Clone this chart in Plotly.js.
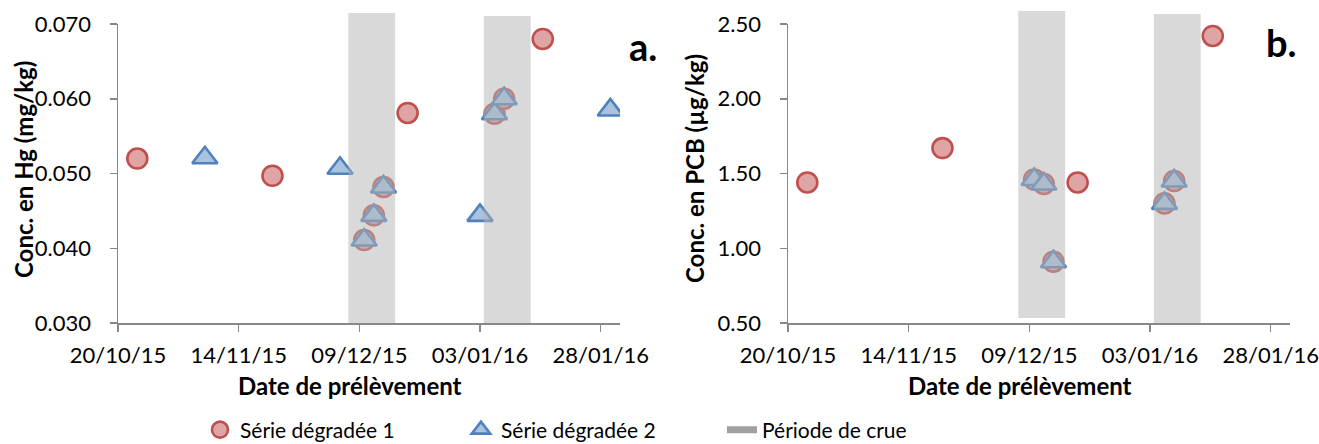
<!DOCTYPE html>
<html>
<head>
<meta charset="utf-8">
<script src="https://cdn.plot.ly/plotly-3.0.1.min.js"></script>
<style>html,body{margin:0;padding:0;background:#fff;} #chart{width:1319px;height:444px;}</style>
</head>
<body>
<div id="chart"></div>
<script>
// ---------- data ----------
const hgDates1 = ['2015-10-24','2015-11-21','2015-12-10','2015-12-12','2015-12-14','2015-12-19','2016-01-06','2016-01-08','2016-01-16'];
const hgVals1  = [0.0520, 0.0497, 0.0411, 0.0444, 0.0482, 0.0581, 0.0580, 0.0600, 0.0680];
const hgDates2 = ['2015-11-07','2015-12-05','2015-12-10','2015-12-12','2015-12-14','2016-01-03','2016-01-06','2016-01-08','2016-01-30'];
const hgVals2  = [0.0521, 0.0507, 0.0411, 0.0444, 0.0482, 0.0444, 0.0580, 0.0600, 0.0585];

const pcbDates1 = ['2015-10-24','2015-11-21','2015-12-10','2015-12-12','2015-12-14','2015-12-19','2016-01-06','2016-01-08','2016-01-16'];
const pcbVals1  = [1.44, 1.67, 1.46, 1.43, 0.91, 1.44, 1.30, 1.45, 2.42];
const pcbDates2 = ['2015-12-10','2015-12-12','2015-12-14','2016-01-06','2016-01-08'];
const pcbVals2  = [1.46, 1.43, 0.91, 1.30, 1.45];

const floodStart = ['2015-12-06 17:00','2016-01-03 19:00'];
const floodEnd   = ['2015-12-16 10:00','2016-01-13 12:00'];

const xTickVals = ['2015-10-20','2015-11-14','2015-12-09','2016-01-03','2016-01-28'];
const xTickText = ['20/10/15','14/11/15','09/12/15','03/01/16','28/01/16'];
const hgTicks  = [0.030, 0.040, 0.050, 0.060, 0.070];
const pcbTicks = [0.50, 1.00, 1.50, 2.00, 2.50];

const seriesNames = ['Série dégradée 1','Série dégradée 2','Période de crue'];

// ---------- styles ----------
const W = 1319, H = 444;
const FONT = 'Lato, "Open Sans", sans-serif';
const AXC = '#888888';
const redM = {symbol:'circle', size:20, color:'#dea5a4', line:{color:'#c0504d', width:2.6}};
const bluM = {symbol:'triangle-up', size:22, color:'#a8c2e0', line:{color:'#4f81bd', width:2.6}};
const px = v => v / W;
const py = v => 1 - v / H;

const traces = [
  {x: hgDates1, y: hgVals1, xaxis:'x', yaxis:'y', mode:'markers', type:'scatter', name: seriesNames[0], marker: redM, legendgroup:'s1'},
  {x: hgDates2, y: hgVals2, xaxis:'x', yaxis:'y', mode:'markers', type:'scatter', name: seriesNames[1], marker: bluM, legendgroup:'s2'},
  {x: pcbDates1, y: pcbVals1, xaxis:'x2', yaxis:'y2', mode:'markers', type:'scatter', name: seriesNames[0], marker: redM, legendgroup:'s1', showlegend:false},
  {x: pcbDates2, y: pcbVals2, xaxis:'x2', yaxis:'y2', mode:'markers', type:'scatter', name: seriesNames[1], marker: bluM, legendgroup:'s2', showlegend:false},
  {x: [null], y: [null], xaxis:'x', yaxis:'y', mode:'lines', type:'scatter', name: seriesNames[2], line:{color:'#a0a0a0', width:7}}
];

const xCommon = {
  type:'date', range:['2015-10-20','2016-02-01'], tickmode:'array', tickvals:xTickVals, ticktext:xTickText,
  showline:true, linecolor:AXC, linewidth:1.5, ticks:'outside', ticklen:7, tickwidth:1.5, tickcolor:AXC,
  showgrid:false, zeroline:false, tickfont:{family:FONT, size:22, color:'#000'}, ticklabelstandoff:5, fixedrange:true
};
const yCommon = {
  showline:true, linecolor:AXC, linewidth:1.5, ticks:'outside', ticklen:7, tickwidth:1.5, tickcolor:AXC,
  showgrid:false, zeroline:false, tickfont:{family:FONT, size:22, color:'#000'}, ticklabelstandoff:14, fixedrange:true,
  domain:[py(323), py(24)]
};

// shading periods, drawn above markers
const shapes = [];
const tops = [[13,16],[11,14]];
const bots = [[323,323],[318,323]];
['x','x2'].forEach((xr, p) => {
  floodStart.forEach((s, i) => {
    shapes.push({type:'rect', xref:xr, yref:'paper', x0:s, x1:floodEnd[i], y0:py(bots[p][i]), y1:py(tops[p][i]),
      fillcolor:'rgb(180,180,180)', opacity:0.5, line:{width:0}, layer:'above'});
  });
});

const titleFont = {family:FONT, size:24, color:'#000', weight:700};
const annotations = [
  {text:'Conc. en Hg (mg/kg)', x:px(23), y:py(170), textangle:-90},
  {text:'Conc. en PCB (µg/kg)', x:px(694), y:py(169), textangle:-90},
  {text:'Date de prélèvement', x:px(350), y:py(385)},
  {text:'Date de prélèvement', x:px(1020), y:py(385)},
  {text:'a.', x:px(643), y:py(46), font:{family:FONT, size:38, color:'#000', weight:700}},
  {text:'b.', x:px(1281), y:py(42), font:{family:FONT, size:38, color:'#000', weight:700}}
].map(a => Object.assign({xref:'paper', yref:'paper', showarrow:false, xanchor:'center', yanchor:'middle', font:titleFont}, a));

const layout = {
  width:W, height:H, margin:{l:0, r:0, t:0, b:0, autoexpand:false}, paper_bgcolor:'#fff', plot_bgcolor:'rgba(0,0,0,0)',
  showlegend:true,
  xaxis: Object.assign({}, xCommon, {domain:[px(118), px(620)], anchor:'y'}),
  xaxis2: Object.assign({}, xCommon, {domain:[px(788), px(1290)], anchor:'y2'}),
  yaxis: Object.assign({}, yCommon, {range:[0.030, 0.070], tickvals:hgTicks, tickmode:'array', tickformat:'.3f', anchor:'x'}),
  yaxis2: Object.assign({}, yCommon, {range:[0.50, 2.50], tickvals:pcbTicks, tickmode:'array', tickformat:'.2f', anchor:'x2'}),
  legend: {orientation:'h', x:px(200), y:py(430), xanchor:'left', yanchor:'middle', font:{family:FONT, size:21, color:'#000'},
    itemwidth:30, entrywidth:216, entrywidthmode:'pixels', bgcolor:'rgba(0,0,0,0)', traceorder:'normal'},
  shapes: shapes,
  annotations: annotations
};

Plotly.newPlot('chart', traces, layout, {displayModeBar:false, staticPlot:true});
</script>
</body>
</html>
